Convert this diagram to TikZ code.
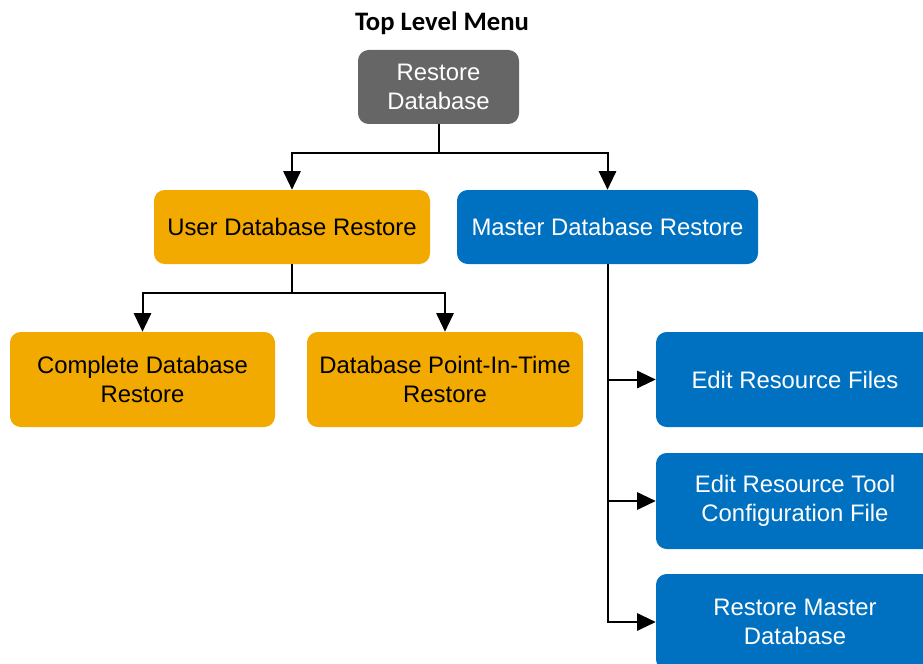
\documentclass[tikz,border=0pt]{standalone}
\usepackage{fontspec}
\setmainfont{Liberation Sans}
\newfontfamily\titlefont{Carlito}
\usetikzlibrary{arrows.meta,positioning}
\definecolor{boxgray}{HTML}{666666}
\definecolor{boxorange}{HTML}{F2A900}
\definecolor{boxblue}{HTML}{0070C0}
\tikzset{
  box/.style={rounded corners=8pt, inner sep=0pt, align=center,
    font=\fontsize{17.9}{21.8}\selectfont},
  graybox/.style={box, fill=boxgray, text=white},
  orangebox/.style={box, fill=boxorange, text=black},
  bluebox/.style={box, fill=boxblue, text=white},
  conn/.style={line width=1.5pt, -{Triangle[length=14pt,width=13pt]}},
}
\begin{document}
\begin{tikzpicture}[x=0.75pt,y=-0.75pt]
\useasboundingbox (0,0) rectangle (923,663);
\clip (0,0) rectangle (923,663);
\node[font=\titlefont\bfseries\fontsize{20}{24}\selectfont] (title) at (442,23) {Top Level Menu};
\node[graybox, minimum width=161*0.75pt, minimum height=74*0.75pt] (rd) at (438.5,87) {Restore\\Database};
\node[orangebox, minimum width=276*0.75pt, minimum height=74*0.75pt] (udb) at (292,227) {User Database Restore};
\node[bluebox, minimum width=301*0.75pt, minimum height=74*0.75pt] (mdb) at (607.5,227) {Master Database Restore};
\node[orangebox, minimum width=265*0.75pt, minimum height=95*0.75pt] (cdr) at (142.5,379.5) {Complete Database\\Restore};
\node[orangebox, minimum width=276*0.75pt, minimum height=95*0.75pt] (pit) at (445,379.5) {Database Point-In-Time\\Restore};
\node[bluebox, minimum width=278*0.75pt, minimum height=95*0.75pt] (erf) at (795,379.5) {Edit Resource Files};
\node[bluebox, minimum width=278*0.75pt, minimum height=96*0.75pt] (ertc) at (795,501) {Edit Resource Tool\\Configuration File};
\node[bluebox, minimum width=278*0.75pt, minimum height=96*0.75pt] (rmd) at (795,622) {Restore Master\\Database};
\draw[conn] (rd.south) -- ++(0,29) -| (udb.north);
\draw[conn] (rd.south) -- ++(0,29) -| (mdb.north);
\draw[conn] (udb.south) -- ++(0,29) -| (cdr.north);
\draw[conn] (udb.south) -- ++(0,29) -| (pit.north);
\draw[conn] (mdb.south) |- (erf.west);
\draw[conn] (mdb.south) |- (ertc.west);
\draw[conn] (mdb.south) |- (rmd.west);
\end{tikzpicture}
\end{document}
